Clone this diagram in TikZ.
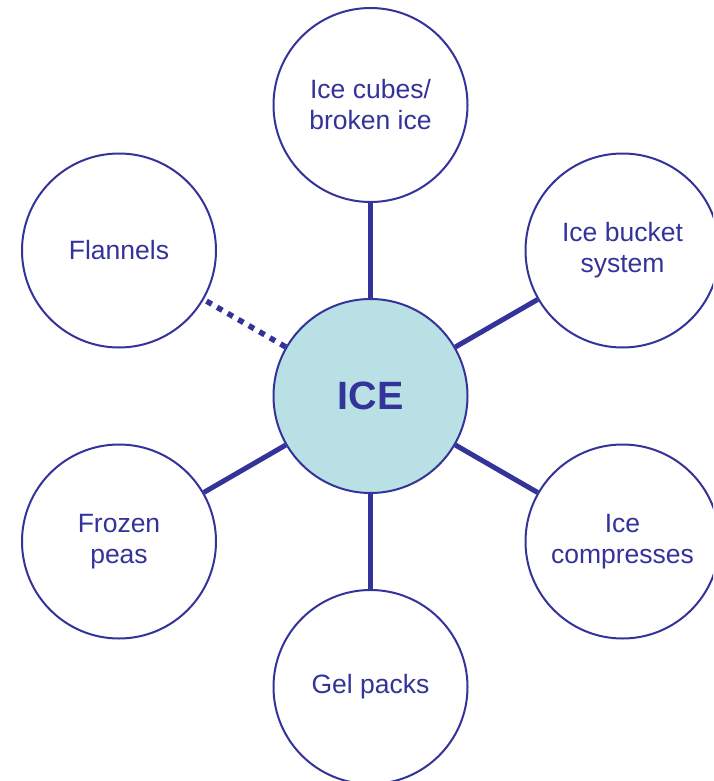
\documentclass[tikz,border=0pt]{standalone}
\usepackage{fontspec}
\setmainfont{Liberation Sans}
\definecolor{navy}{RGB}{51,51,153}
\definecolor{icefill}{RGB}{185,224,228}
\tikzset{
  bubble/.style={circle, draw=navy, line width=2pt, fill=white, minimum size=194pt, inner sep=0pt,
    text=navy, align=center, font=\fontsize{26.5}{31}\selectfont},
  hub/.style={bubble, fill=icefill, font=\fontsize{39.5}{44}\selectfont\bfseries},
  link/.style={draw=navy, line width=5pt},
  weaklink/.style={draw=navy, line width=5.5pt, dash pattern=on 6pt off 6.2pt}
}
\begin{document}
\begin{tikzpicture}[x=1pt,y=-1pt]
\clip (0,0) rectangle (713,781);
\fill[white] (0,0) rectangle (713,781);
\node[hub] (ice) at (370.5,396) {ICE};
\node[bubble] (cubes) at (370.5,105) {Ice cubes/\\broken ice};
\node[bubble] (bucket) at (622.5,250.5) {Ice bucket\\system};
\node[bubble] (flannels) at (119,250.5) {Flannels};
\node[bubble] (peas) at (119,541.5) {Frozen\\peas};
\node[bubble] (compress) at (622.5,541.5) {Ice\\compresses};
\node[bubble] (gel) at (370.5,687) {Gel packs};
\draw[link] (ice) -- (cubes);
\draw[link] (ice) -- (bucket);
\draw[link] (ice) -- (peas);
\draw[link] (ice) -- (compress);
\draw[link] (ice) -- (gel);
\draw[weaklink] (ice) -- (flannels);
\end{tikzpicture}
\end{document}
